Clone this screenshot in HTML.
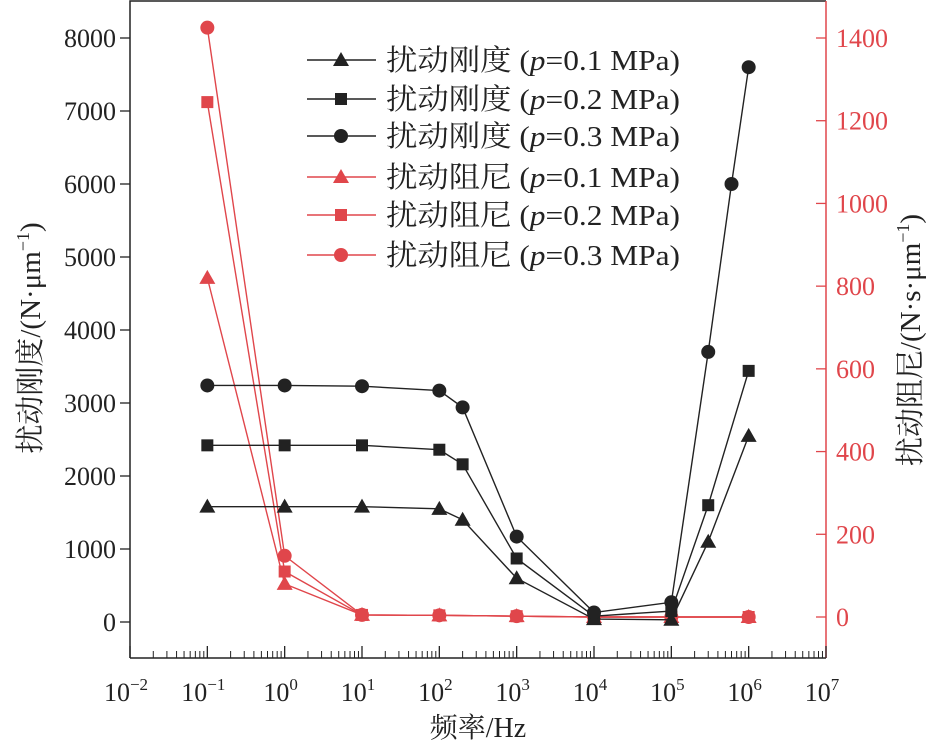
<!DOCTYPE html>
<html><head><meta charset="utf-8"><style>
html,body{margin:0;padding:0;background:#fff;}
svg text{font-family:"Liberation Serif","Noto Serif CJK SC",serif;}
</style></head><body>
<svg id="chart" width="944" height="746" viewBox="0 0 944 746" xmlns="http://www.w3.org/2000/svg"></svg>
<script>
const stiffX1 = [0.1,1,10,100,200,1000,1e4,1e5,3e5,1e6];
const stiffP01 = [1580,1580,1580,1550,1400,600,40,30,1100,2550];
const stiffX2 = [0.1,1,10,100,200,1000,1e4,1e5,3e5,1e6];
const stiffP02 = [2420,2420,2420,2360,2160,870,80,150,1600,3440];
const stiffX3 = [0.1,1,10,100,200,1000,1e4,1e5,3e5,6e5,1e6];
const stiffP03 = [3240,3240,3230,3170,2940,1170,130,270,3700,6000,7600];
const dampX = [0.1,1,10,100,1000,1e4,1e5,1e6];
const dampP01 = [820,80,5,4,2,0,0,0];
const dampP02 = [1245,110,5,4,2,0,0,0];
const dampP03 = [1425,148,5,4,2,0,0,0];
const leftTicks = [0,1000,2000,3000,4000,5000,6000,7000,8000];
const rightTicks = [0,200,400,600,800,1000,1200,1400];
const xExps = [-2,-1,0,1,2,3,4,5,6,7];

const NS="http://www.w3.org/2000/svg";
const svg=document.getElementById('chart');
const RED="#e0464b";
const X0=130,X1=826,YT=1,YB=658;
function xs(v){return X0+(Math.log10(v)+2)/9*(X1-X0);}
function yl(v){return 622-v*(622-38)/8000;}
function yr(v){return 617-v*(617-38)/1400;}
function el(tag,attrs,parent){const e=document.createElementNS(NS,tag);for(const k in attrs)e.setAttribute(k,attrs[k]);(parent||svg).appendChild(e);return e;}

let fr=el('path',{d:`M${X0},${YB}V${YT}H${X1}`,stroke:'#222',fill:'none','stroke-width':1.5});


let xa=el('line',{x1:X0,y1:YB,x2:X1,y2:YB,stroke:'#222','stroke-width':1.5});


let ra=el('line',{x1:X1,y1:YT,x2:X1,y2:YB,stroke:RED,'stroke-width':1.5});



xExps.forEach(e=>{
  const x=xs(Math.pow(10,e));
  let t=el('line',{x1:x,y1:YB,x2:x,y2:YB-12,stroke:'#222','stroke-width':1.3});
  
  
  if(e<7){for(let m=2;m<10;m++){const xm=xs(m*Math.pow(10,e));let mt=el('line',{x1:xm,y1:YB,x2:xm,y2:YB-7,stroke:'#222','stroke-width':1});
    
    }}
  const tx=el('text',{x:x-4,y:701,'font-size':26,'text-anchor':'middle',fill:'#222'});
  
  
  tx.innerHTML=`10<tspan dy="-11" font-size="17">${e<0?'−'+(-e):e}</tspan>`;
});
leftTicks.forEach(v=>{
  const y=yl(v);
  let t=el('line',{x1:X0-10,y1:y,x2:X0,y2:y,stroke:'#222','stroke-width':1.3});
  
  
  const tx=el('text',{x:X0-14,y:y+9,'font-size':26,'text-anchor':'end',fill:'#222'});
  
  
  tx.textContent=v;
});
rightTicks.forEach(v=>{
  const y=yr(v);
  let t=el('line',{x1:X1-10,y1:y,x2:X1,y2:y,stroke:RED,'stroke-width':1.3});
  
  
  const tx=el('text',{x:X1+10,y:y+9,'font-size':26,fill:RED});
  
  
  tx.textContent=v;
});
let xt=el('text',{x:478,y:737,'font-size':28,'text-anchor':'middle',fill:'#222'});


xt.textContent='频率/Hz';
let lt=el('text',{transform:'translate(40,338) rotate(-90)','font-size':29,'text-anchor':'middle',fill:'#222'});


lt.innerHTML='扰动刚度/(N·μm<tspan dy="-11" font-size="18">−1</tspan><tspan dy="11">)</tspan>';
let rt=el('text',{transform:'translate(920,340) rotate(-90)','font-size':29,'text-anchor':'middle',fill:'#222'});


rt.innerHTML='扰动阻尼/(N·s·μm<tspan dy="-11" font-size="18">−1</tspan><tspan dy="11">)</tspan>';

function marker(shape,x,y,color,g,s){
  s=s||1;
  if(shape==='tri') return el('path',{d:`M${x},${y-8*s}L${x+8*s},${y+6*s}L${x-8*s},${y+6*s}Z`,fill:color},g);
  if(shape==='sq') return el('rect',{x:x-6*s,y:y-6*s,width:12*s,height:12*s,fill:color},g);
  return el('circle',{cx:x,cy:y,r:7*s,fill:color},g);
}
function series(xsArr,ys,yfn,color,shape,name){
  const g=el('g',{});
  
  
  const pts=xsArr.map((x,i)=>[xs(x),yfn(ys[i])]);
  el('polyline',{points:pts.map(p=>p.join(',')).join(' '),fill:'none',stroke:color,'stroke-width':1.4},g);
  pts.forEach(p=>{const m=marker(shape,p[0],p[1],color,g);
    
    });
}
series(dampX,dampP01,yr,RED,'tri','damping-p01-series');
series(dampX,dampP02,yr,RED,'sq','damping-p02-series');
series(dampX,dampP03,yr,RED,'circ','damping-p03-series');
series(stiffX1,stiffP01,yl,'#222','tri','stiffness-p01-series');
series(stiffX2,stiffP02,yl,'#222','sq','stiffness-p02-series');
series(stiffX3,stiffP03,yl,'#222','circ','stiffness-p03-series');

const legLabels=['扰动刚度','扰动刚度','扰动刚度','扰动阻尼','扰动阻尼','扰动阻尼'];
const legP=['0.1','0.2','0.3','0.1','0.2','0.3'];
const legShapes=['tri','sq','circ','tri','sq','circ'];
const legY=[60,99,136,177,215,255];
legLabels.forEach((l,i)=>{
  const c=i<3?'#222':RED;
  const g=el('g',{});
  
  
  const y=legY[i];
  el('line',{x1:307,y1:y,x2:376,y2:y,stroke:c,'stroke-width':1.4},g);
  marker(legShapes[i],341,y,c,g);
  const t=el('text',{x:386,y:y+10,'font-size':29,fill:'#222',textLength:294,lengthAdjust:'spacingAndGlyphs'},g);
  t.innerHTML=`${l} (<tspan font-style="italic">p</tspan>=${legP[i]} MPa)`;
});
</script>
</body></html>
